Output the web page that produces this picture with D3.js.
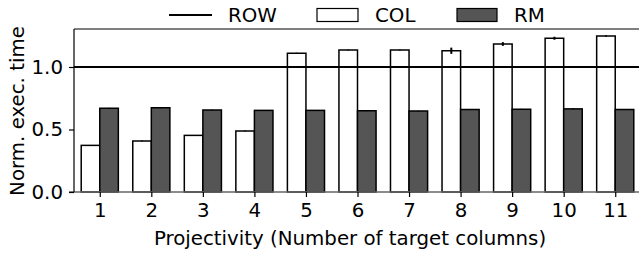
<!DOCTYPE html>
<html><head><meta charset="utf-8">
<script src="https://cdn.jsdelivr.net/npm/d3@7"></script>
<style>body{margin:0;background:#fff;} text{font-family:"DejaVu Sans",sans-serif;}</style>
</head><body>
<svg id="c" width="639" height="255"></svg>
<script>
const categories = [1,2,3,4,5,6,7,8,9,10,11];
const colValues = [0.373,0.408,0.453,0.488,1.11,1.136,1.136,1.13,1.184,1.23,1.248];
const colErr    = [0.003,0.003,0.003,0.003,0.004,0.003,0.003,0.025,0.015,0.012,0.005];
const rmValues  = [0.67,0.674,0.656,0.653,0.653,0.65,0.648,0.66,0.662,0.665,0.66];
const rmErr     = [0.003,0.004,0.002,0.002,0.002,0.003,0.002,0.002,0.003,0.003,0.002];
const rowValue = 1.0;
const yTicks = [0,0.5,1.0];
const seriesNames = ["ROW","COL","RM"];

const svg = d3.select("#c");
const x = d3.scaleLinear().domain([0.5,11.5]).range([74,641]);
const y = d3.scaleLinear().domain([0,1.304]).range([192,29]);
const bw = 0.36;
const fs = 19.8;

const g = svg.append("g");
g.selectAll("rect.col").data(categories).join("rect")
  .attr("x", d=>x(d-bw)).attr("width", x(bw)-x(0))
  .attr("y", (d,i)=>y(colValues[i])).attr("height",(d,i)=>y(0)-y(colValues[i]))
  .attr("fill","#fff").attr("stroke","#000").attr("stroke-width",1.5);
g.selectAll("rect.rm").data(categories).join("rect")
  .attr("x", d=>x(d)).attr("width", x(bw)-x(0))
  .attr("y", (d,i)=>y(rmValues[i])).attr("height",(d,i)=>y(0)-y(rmValues[i]))
  .attr("fill","#555").attr("stroke","#000").attr("stroke-width",1.5);
g.selectAll("line.ec").data(categories).join("line")
  .attr("x1", d=>x(d-bw/2)).attr("x2", d=>x(d-bw/2))
  .attr("y1",(d,i)=>y(colValues[i]-colErr[i])).attr("y2",(d,i)=>y(colValues[i]+colErr[i]))
  .attr("stroke","#000").attr("stroke-width",2);
g.selectAll("line.er").data(categories).join("line")
  .attr("x1", d=>x(d+bw/2)).attr("x2", d=>x(d+bw/2))
  .attr("y1",(d,i)=>y(rmValues[i]-rmErr[i])).attr("y2",(d,i)=>y(rmValues[i]+rmErr[i]))
  .attr("stroke","#000").attr("stroke-width",2);

svg.append("line").attr("x1",x(0.5)).attr("x2",x(11.5)).attr("y1",y(rowValue)).attr("y2",y(rowValue))
  .attr("stroke","#000").attr("stroke-width",2);

svg.append("line").attr("x1",69).attr("x2",641).attr("y1",y(0)).attr("y2",y(0)).attr("stroke","#666").attr("stroke-width",1.5);
svg.append("line").attr("x1",74).attr("x2",641).attr("y1",y(1.304)).attr("y2",y(1.304)).attr("stroke","#000").attr("stroke-width",1.2);
svg.append("line").attr("x1",74).attr("x2",74).attr("y1",y(0)).attr("y2",y(1.304)).attr("stroke","#000").attr("stroke-width",1.2);

const xa = svg.append("g").attr("transform",`translate(0,${y(0)})`)
  .call(d3.axisBottom(x).tickValues(categories).tickSize(5).tickPadding(6).tickFormat(d3.format("d")));
xa.select(".domain").remove();
xa.selectAll("text").attr("font-size",fs).attr("fill","#000").attr("font-family","DejaVu Sans");
xa.selectAll("line").attr("stroke","#000").attr("stroke-width",1.2);
const ya = svg.append("g").attr("transform","translate(74,0)")
  .call(d3.axisLeft(y).tickValues(yTicks).tickSize(5).tickPadding(6).tickFormat(d3.format(".1f")));
ya.select(".domain").remove();
ya.selectAll("text").attr("font-size",fs).attr("fill","#000").attr("font-family","DejaVu Sans");
ya.selectAll("line").attr("stroke","#000").attr("stroke-width",1.2);

svg.append("text").attr("x",350).attr("y",245).attr("text-anchor","middle").attr("font-size",fs).text("Projectivity (Number of target columns)");
svg.append("text").attr("transform","translate(24,111) rotate(-90)").attr("text-anchor","middle").attr("font-size",fs).text("Norm. exec. time");

const lg = svg.append("g");
lg.append("line").attr("x1",169).attr("x2",212).attr("y1",15).attr("y2",15).attr("stroke","#000").attr("stroke-width",2);
lg.append("text").attr("x",228).attr("y",22).attr("font-size",fs).text(seriesNames[0]);
lg.append("rect").attr("x",317).attr("y",8.5).attr("width",41).attr("height",13).attr("fill","#fff").attr("stroke","#000").attr("stroke-width",1.2);
lg.append("text").attr("x",375).attr("y",22).attr("font-size",fs).text(seriesNames[1]);
lg.append("rect").attr("x",457).attr("y",8.5).attr("width",40).attr("height",13).attr("fill","#555").attr("stroke","#000").attr("stroke-width",1.2);
lg.append("text").attr("x",514).attr("y",22).attr("font-size",fs).text(seriesNames[2]);
</script>
</body></html>
